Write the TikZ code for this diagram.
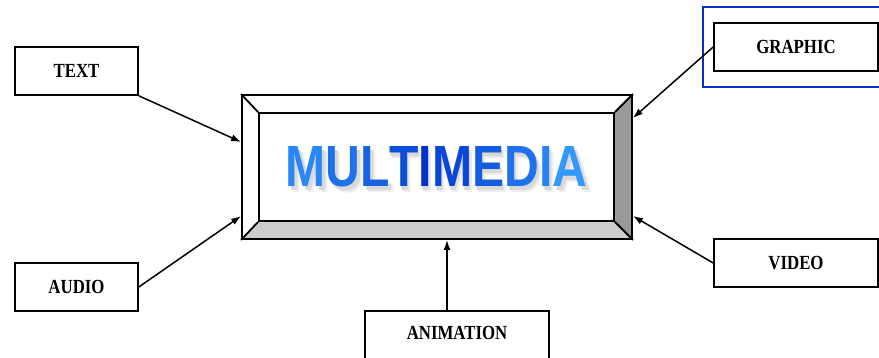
\documentclass[tikz,border=0pt]{standalone}
\usepackage{fontspec}
\setmainfont{Liberation Serif}
\newfontfamily\multifont{Liberation Sans}
\usetikzlibrary{arrows.meta}
\definecolor{lb}{HTML}{3399FF}
\definecolor{db}{HTML}{0033CC}
\definecolor{frameblue}{HTML}{0A2FC0}
\definecolor{bevelR}{HTML}{999999}
\definecolor{bevelB}{HTML}{CCCCCC}
\definecolor{shadowA}{HTML}{EEEEEE}
\definecolor{shadowB}{HTML}{D9D9D9}
\newcommand\lbl[1]{\scalebox{1.05}[1.25]{#1}}
\newcommand\mmword[1]{\resizebox{302pt}{40pt}{\multifont\bfseries #1}}
\newcommand\mmshadow{%
  \makebox[0pt][l]{\hspace*{5pt}\raisebox{-6pt}{\textcolor{shadowA}{\mmword{MULTIMEDIA}}}}%
  \makebox[0pt][l]{\hspace*{3pt}\raisebox{-4pt}{\textcolor{shadowB}{\mmword{MULTIMEDIA}}}}}
\tikzset{
  itembox/.style={draw=black, line width=1.6pt, fill=white, minimum height=48pt,
    font=\bfseries\fontsize{16}{16}\selectfont, inner sep=0pt},
  arr/.style={line width=1.5pt, -{Latex[length=10pt,width=7pt]}},
  bevel/.style={line width=1.8pt, line join=miter}
}
\begin{document}
\begin{tikzpicture}[x=1pt,y=-1pt]
\useasboundingbox (0,0) rectangle (879,358);
% main bevelled box
\fill[bevelR] (632,95) -- (632,239) -- (614,221) -- (614,113) -- cycle;
\fill[bevelB] (242,239) -- (632,239) -- (614,221) -- (259,221) -- cycle;
\node[draw, bevel, minimum width=390pt, minimum height=144pt, inner sep=0pt] (main) at (437,167) {};
\node[draw, bevel, minimum width=355pt, minimum height=108pt, inner sep=0pt] (inner) at (436.5,167) {};
\draw[bevel] (main.north west) -- (inner.north west);
\draw[bevel] (main.north east) -- (inner.north east);
\draw[bevel] (main.south west) -- (inner.south west);
\draw[bevel] (main.south east) -- (inner.south east);
% the word with its shadow
\node[inner sep=0pt, anchor=west] (word) at (285,170) {\mmshadow\mmword{%
  \textcolor{lb!82!db}{M}\textcolor{lb!62!db}{U}\textcolor{lb!45!db}{L}\textcolor{lb!27!db}{T}\textcolor{db}{I}%
  \textcolor{lb!20!db}{M}\textcolor{lb!40!db}{E}\textcolor{lb!60!db}{D}\textcolor{lb!78!db}{I}\textcolor{lb!98!db}{A}}};
% blue frame
\draw[frameblue, line width=1.8pt] (703,7) rectangle (882,87);
% item boxes
\node[itembox, minimum width=123pt] (text) at (76.5,71) {\lbl{TEXT}};
\node[itembox, minimum width=123pt] (audio) at (76.5,287) {\lbl{AUDIO}};
\node[itembox, minimum width=164pt] (graphic) at (796,47) {\lbl{GRAPHIC}};
\node[itembox, minimum width=164pt] (video) at (796,263) {\lbl{VIDEO}};
\node[itembox, minimum width=184pt, minimum height=50pt] (anim) at (457,336) {};
\node[font=\bfseries\fontsize{16}{16}\selectfont, inner sep=0pt] (animlbl) at (457,333) {\lbl{ANIMATION}};
% connectors
\draw[arr] (text.south east) -- ([yshift=25pt]main.west);
\draw[arr] (audio.east) -- ([yshift=-49pt]main.west);
\draw[arr] (graphic.west) -- ([yshift=49pt]main.east);
\draw[arr] (video.west) -- ([yshift=-49pt]main.east);
\draw[arr] ([xshift=-10pt]anim.north) -- ([xshift=10pt]main.south);
\end{tikzpicture}
\end{document}
